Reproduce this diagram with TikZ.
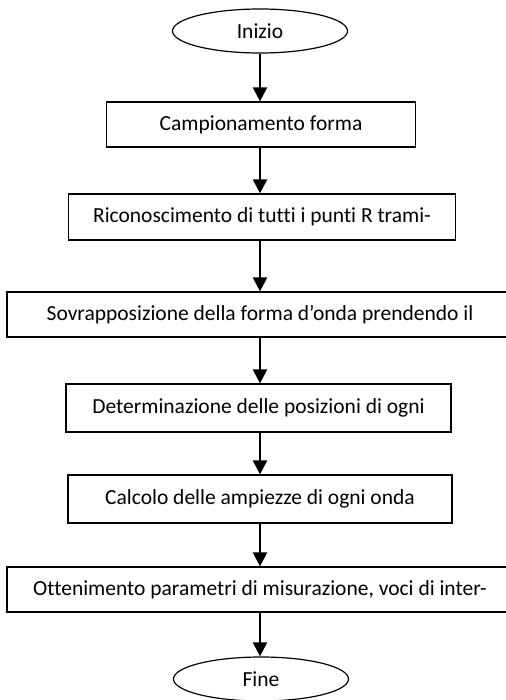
\documentclass[tikz,border=0pt]{standalone}
\usepackage{fontspec}
\setmainfont{Carlito}[Ligatures=NoCommon]
\usetikzlibrary{shapes.geometric,arrows.meta}
\tikzset{
  passo/.style={draw,line width=1.2pt,minimum height=45pt,inner sep=0pt,
    font=\fontsize{21.5}{25}\selectfont},
  terminale/.style={ellipse,draw,line width=1.2pt,minimum width=175pt,
    minimum height=44pt,inner sep=0pt,font=\fontsize{21.5}{25}\selectfont},
  freccia/.style={-{Triangle[width=14pt,length=14pt]},line width=2.2pt}
}
\begin{document}
\begin{tikzpicture}[x=1pt,y=-1pt]
  \useasboundingbox (0,0) rectangle (505,700);
  % Start and end of the procedure
  \node[terminale] (inizio) at (260,31) {Inizio};
  \node[terminale] (fine) at (261,679) {Fine};
  % The six steps, top to bottom
  \node[passo,minimum width=309pt] (camp) at (261,124.5) {Campionamento forma};
  \node[passo,minimum width=387pt,minimum height=46pt] (ric) at (262,217) {Riconoscimento di tutti i punti R trami-};
  \node[passo,minimum width=506pt] (sovr) at (260,314.5) {Sovrapposizione della forma d’onda prendendo il};
  \node[passo,minimum width=385pt,minimum height=48pt] (det) at (258.5,408) {Determinazione delle posizioni di ogni};
  \node[passo,minimum width=384pt,minimum height=48pt] (calc) at (260,499) {Calcolo delle ampiezze di ogni onda};
  \node[passo,minimum width=506pt] (ott) at (260,589.5) {Ottenimento parametri di misurazione, voci di inter-};
  \foreach \a/\b in {inizio/camp,camp/ric,ric/sovr,sovr/det,det/calc,calc/ott,ott/fine}{
    \draw[freccia] (\a.south -| 260,0) -- (\b.north -| 260,0);
  }
\end{tikzpicture}
\end{document}
